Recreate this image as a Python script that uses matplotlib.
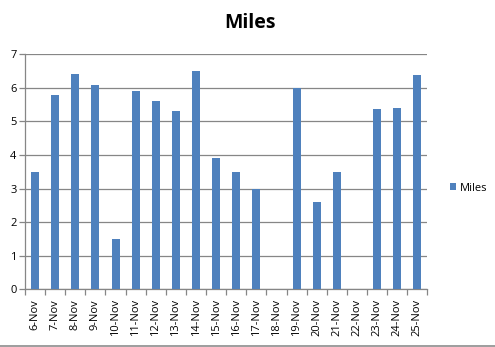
import matplotlib
matplotlib.use('Agg')
import matplotlib.pyplot as plt
from matplotlib.lines import Line2D
import numpy as np

# Data
days = ['6-Nov', '7-Nov', '8-Nov', '9-Nov', '10-Nov', '11-Nov', '12-Nov',
        '13-Nov', '14-Nov', '15-Nov', '16-Nov', '17-Nov', '18-Nov', '19-Nov',
        '20-Nov', '21-Nov', '22-Nov', '23-Nov', '24-Nov', '25-Nov']
miles = [3.5, 5.8, 6.4, 6.1, 1.5, 5.9, 5.6, 5.3, 6.5, 3.9, 3.5, 3.0, 0,
         6.0, 2.6, 3.5, 0, 5.37, 5.4, 6.38]
y_ticks = [0, 1, 2, 3, 4, 5, 6, 7]

plt.rcParams['font.family'] = ['Open Sans', 'DejaVu Sans']
BAR = '#4f81bd'
GRID = '#868686'

fig = plt.figure(figsize=(4.95, 3.47), dpi=100)
ax = fig.add_axes([0.0505, 0.1663, 0.8131, 0.6772])

x = np.arange(len(days))
ax.bar(x, miles, width=0.4, color=BAR, label='Miles', zorder=3)

ax.set_xlim(-0.5, len(days) - 0.5)
ax.set_ylim(0, 7)
ax.set_yticks(y_ticks)
ax.yaxis.grid(True, color=GRID, linewidth=0.9, zorder=0)

# category labels at bar centres, tick marks between categories
ax.set_xticks(x)
ax.set_xticklabels(days, rotation=90, fontsize=8)
ax.tick_params(axis='x', length=0, pad=7)
ax.set_xticks(np.arange(-0.5, len(days)), minor=True)
ax.tick_params(axis='x', which='minor', length=4, color=GRID, width=0.9)
ax.tick_params(axis='y', length=4, color=GRID, width=0.9, labelsize=8, pad=2)

for side in ['top', 'right']:
    ax.spines[side].set_visible(False)
for side in ['left', 'bottom']:
    ax.spines[side].set_color(GRID)
    ax.spines[side].set_linewidth(0.9)

fig.text(0.505, 0.935, 'Miles', ha='center', va='center',
         fontsize=14, fontweight='bold')

ax.legend(loc='center left', bbox_to_anchor=(1.03, 0.43), frameon=False,
          fontsize=8, handlelength=0.6, handleheight=0.6, handletextpad=0.3)

# grey rule along the bottom edge of the chart area
fig.add_artist(Line2D([0, 1], [0.0043, 0.0043], transform=fig.transFigure,
                      color='#8c8c8c', linewidth=1.2))

fig.savefig('out.png', dpi=100)
